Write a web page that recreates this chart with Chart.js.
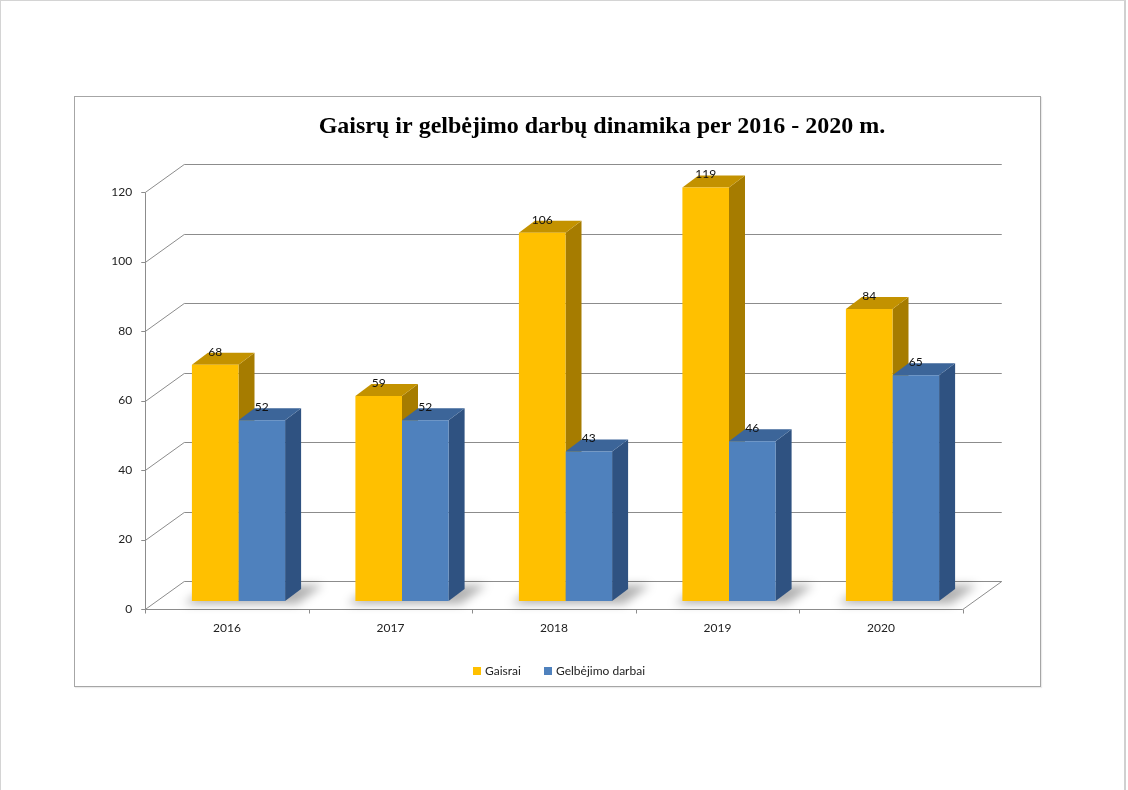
<!DOCTYPE html>
<html lang="lt">
<head>
<meta charset="UTF-8">
<title>Gaisrų ir gelbėjimo darbų dinamika</title>
<script src="https://cdn.jsdelivr.net/npm/chart.js"></script>
<style>
    html, body { margin: 0; padding: 0; background: #fff; }
    /* lapo rėmelis */
    #page {
        position: absolute; left: 0; top: 0; width: 1123px; height: 800px;
        border-left: 1px solid #d4d4d4; border-top: 1px solid #d4d4d4; border-right: 2px solid #d0d0d0;
    }
    #chart-box {
        position: absolute; left: 74px; top: 96px; width: 965px; height: 589px;
        border: 1px solid #a6a6a6;
        box-shadow: 1px 1px 1px rgba(0,0,0,0.08);
        background: #fff;
    }
    #chart { display: block; }
</style>
</head>
<body>
<div id="page"></div>
<div id="chart-box">
    <canvas id="chart" width="965" height="589"></canvas>
</div>

<script>
// duomenys
const years = ['2016', '2017', '2018', '2019', '2020'];
const gaisrai = [68, 59, 106, 119, 84];
const gelbejimoDarbai = [52, 52, 43, 46, 65];
const yTicks = [0, 20, 40, 60, 80, 100, 120];
const seriesNames = ['Gaisrai', 'Gelbėjimo darbai'];
const titleText = 'Gaisrų ir gelbėjimo darbų dinamika per 2016 - 2020 m.';

// spalvos: priekis, šonas, viršus
const colors = [
    { front: '#FFC000', side: '#A67C00', top: '#C39200' },
    { front: '#4F81BD', side: '#2F5281', top: '#3C6599' }
];

// 3D poslinkiai
const FRONT = { x: -11.5, y: 8 };     // priekinė plokštuma nuo stulpelių plokštumos
const BACK = { x: 39, y: -28 };       // galinė siena nuo priekio
const BAR_D = { x: 16, y: -12 };      // stulpelio gylis
const GRID = '#8c8c8c';

const label = 'Lato, "Liberation Sans", sans-serif';

const threeD = {
    id: 'threeD',
    beforeDraw(chart) {
        const ctx = chart.ctx;
        const xs = chart.scales.x, ys = chart.scales.y;
        const fl = xs.left + FRONT.x, fr = xs.right + FRONT.x;
        ctx.save();
        ctx.lineWidth = 1;
        ctx.strokeStyle = GRID;

        // tinklelis ant galinės sienos + įstrižos linijos
        yTicks.forEach(v => {
            const fy = Math.round(ys.getPixelForValue(v) + FRONT.y) + 0.5;
            const by = fy + BACK.y;
            ctx.beginPath();
            ctx.moveTo(fl, fy);
            ctx.lineTo(fl + BACK.x, by);
            ctx.lineTo(fr + BACK.x, by);
            ctx.stroke();
            // žymė
            ctx.beginPath();
            ctx.moveTo(fl - 4, fy);
            ctx.lineTo(fl, fy);
            ctx.stroke();
        });

        // grindys
        const f0 = Math.round(ys.getPixelForValue(0) + FRONT.y) + 0.5;
        const fTop = Math.round(ys.getPixelForValue(120) + FRONT.y) + 0.5;
        ctx.beginPath();
        ctx.moveTo(fl, f0);
        ctx.lineTo(fr, f0);
        ctx.lineTo(fr + BACK.x, f0 + BACK.y);
        ctx.stroke();
        // priekinė vertikali ašis
        ctx.beginPath();
        ctx.moveTo(Math.round(fl) + 0.5, f0);
        ctx.lineTo(Math.round(fl) + 0.5, fTop);
        ctx.stroke();

        // x ašies žymės
        const cw = (xs.right - xs.left) / years.length;
        for (let i = 0; i <= years.length; i++) {
            const x = Math.round(fl + i * cw) + 0.5;
            ctx.beginPath();
            ctx.moveTo(x, f0);
            ctx.lineTo(x, f0 + 4);
            ctx.stroke();
        }

        // y ašies etiketės
        ctx.fillStyle = '#222';
        ctx.font = '12px ' + label;
        ctx.textAlign = 'right';
        ctx.textBaseline = 'middle';
        yTicks.forEach(v => {
            ctx.fillText(String(v), fl - 13, ys.getPixelForValue(v) + FRONT.y);
        });

        // x ašies etiketės
        ctx.textAlign = 'center';
        years.forEach((y, i) => {
            ctx.fillText(y, xs.getPixelForValue(i) + FRONT.x, f0 + 19);
        });

        // pavadinimas
        ctx.fillStyle = '#000';
        ctx.font = 'bold 24px "Liberation Serif", "DejaVu Serif", serif';
        ctx.fillText(titleText, 527, 30);

        // legenda
        ctx.font = '12px ' + label;
        ctx.textAlign = 'left';
        const lx = [398, 469];
        seriesNames.forEach((n, i) => {
            ctx.fillStyle = colors[i].front;
            ctx.fillRect(lx[i], 570, 8, 8);
            ctx.fillStyle = '#222';
            ctx.fillText(n, lx[i] + 12, 574);
        });

        ctx.restore();
    },
    beforeDatasetsDraw(chart) {
        const ctx = chart.ctx;
        const m0 = chart.getDatasetMeta(0), m1 = chart.getDatasetMeta(1);
        ctx.save();
        // šešėliai ant grindų
        ctx.filter = 'blur(5px)';
        ctx.fillStyle = 'rgba(0,0,0,0.3)';
        m0.data.forEach((b, j) => {
            const l = b.x - b.width / 2;
            const r = m1.data[j].x + m1.data[j].width / 2;
            const base = b.base;
            ctx.beginPath();
            ctx.moveTo(l - 8, base + 3);
            ctx.lineTo(r + 12, base + 3);
            ctx.lineTo(r + 38, base - 16);
            ctx.lineTo(l + 18, base - 16);
            ctx.closePath();
            ctx.fill();
        });
        ctx.filter = 'none';

        // šonai ir viršūnės
        [m0, m1].forEach((meta, i) => {
            meta.data.forEach(b => {
                const l = b.x - b.width / 2, r = b.x + b.width / 2;
                const top = b.y, base = b.base;
                ctx.fillStyle = colors[i].side;
                ctx.beginPath();
                ctx.moveTo(r, top);
                ctx.lineTo(r + BAR_D.x, top + BAR_D.y);
                ctx.lineTo(r + BAR_D.x, base + BAR_D.y);
                ctx.lineTo(r, base);
                ctx.closePath();
                ctx.fill();
                ctx.fillStyle = colors[i].top;
                ctx.beginPath();
                ctx.moveTo(l, top);
                ctx.lineTo(r, top);
                ctx.lineTo(r + BAR_D.x, top + BAR_D.y);
                ctx.lineTo(l + BAR_D.x, top + BAR_D.y);
                ctx.closePath();
                ctx.fill();
            });
        });
        ctx.restore();
    },
    afterDatasetsDraw(chart) {
        const ctx = chart.ctx;
        ctx.save();
        ctx.fillStyle = '#111';
        ctx.font = '12px ' + label;
        ctx.textAlign = 'center';
        ctx.textBaseline = 'middle';
        chart.data.datasets.forEach((ds, i) => {
            chart.getDatasetMeta(i).data.forEach((b, j) => {
                ctx.fillText(String(ds.data[j]), b.x, b.y - 13);
            });
        });
        ctx.restore();
    }
};

new Chart(document.getElementById('chart').getContext('2d'), {
    type: 'bar',
    data: {
        labels: years,
        datasets: [
            { label: seriesNames[0], data: gaisrai, backgroundColor: colors[0].front },
            { label: seriesNames[1], data: gelbejimoDarbai, backgroundColor: colors[1].front }
        ]
    },
    options: {
        responsive: false,
        animation: false,
        layout: { padding: { left: 81.75, right: 65.75, top: 87, bottom: 85 } },
        datasets: {
            bar: { categoryPercentage: 0.57, barPercentage: 1.0, borderWidth: 0 }
        },
        scales: {
            x: { display: false },
            y: { display: false, min: 0, max: 120 }
        },
        plugins: {
            legend: { display: false },
            title: { display: false },
            tooltip: { enabled: false }
        }
    },
    plugins: [threeD]
});
</script>
</body>
</html>
